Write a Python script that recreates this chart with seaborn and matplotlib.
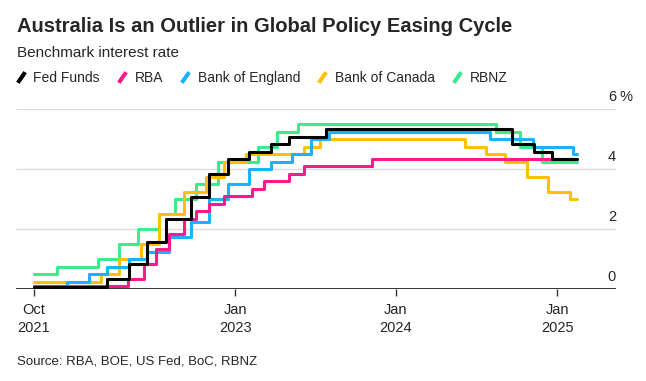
import matplotlib.pyplot as plt
import matplotlib.transforms as mtransforms
from matplotlib.lines import Line2D
import pandas as pd
import seaborn as sns

# policy rate change points (date the new rate took effect), last entry = end of data
fed_dates = ["2021-10-01", "2022-03-17", "2022-05-05", "2022-06-16", "2022-07-28",
             "2022-09-22", "2022-11-03", "2022-12-15", "2023-02-02", "2023-03-23",
             "2023-05-04", "2023-07-27", "2024-09-19", "2024-11-08", "2024-12-19",
             "2025-02-14"]
fed_rates = [0.08, 0.33, 0.83, 1.58, 2.33, 3.08, 3.83, 4.33, 4.58, 4.83, 5.08, 5.33,
             4.83, 4.58, 4.33, 4.33]

rba_dates = ["2021-10-01", "2022-05-04", "2022-06-08", "2022-07-06", "2022-08-03",
             "2022-09-07", "2022-10-05", "2022-11-02", "2022-12-07", "2023-02-08",
             "2023-03-08", "2023-05-03", "2023-06-07", "2023-11-08", "2025-02-14"]
rba_rates = [0.10, 0.35, 0.85, 1.35, 1.85, 2.35, 2.60, 2.85, 3.10, 3.35, 3.60, 3.85,
             4.10, 4.35, 4.35]

boe_dates = ["2021-10-01", "2021-12-16", "2022-02-03", "2022-03-17", "2022-05-05",
             "2022-06-16", "2022-08-04", "2022-09-22", "2022-11-03", "2022-12-15",
             "2023-02-02", "2023-03-23", "2023-05-11", "2023-06-22", "2023-08-03",
             "2024-08-01", "2024-11-07", "2025-02-06", "2025-02-14"]
boe_rates = [0.10, 0.25, 0.50, 0.75, 1.00, 1.25, 1.75, 2.25, 3.00, 3.50, 4.00, 4.25,
             4.50, 5.00, 5.25, 5.00, 4.75, 4.50, 4.50]

boc_dates = ["2021-10-01", "2022-03-02", "2022-04-13", "2022-06-01", "2022-07-13",
             "2022-09-07", "2022-10-26", "2022-12-07", "2023-01-25", "2023-06-07",
             "2023-07-12", "2024-06-05", "2024-07-24", "2024-09-04", "2024-10-23",
             "2024-12-11", "2025-01-29", "2025-02-14"]
boc_rates = [0.25, 0.50, 1.00, 1.50, 2.50, 3.25, 3.75, 4.25, 4.50, 4.75, 5.00, 4.75,
             4.50, 4.25, 3.75, 3.25, 3.00, 3.00]

rbnz_dates = ["2021-10-01", "2021-11-24", "2022-02-23", "2022-04-13", "2022-05-25",
              "2022-07-13", "2022-08-17", "2022-10-05", "2022-11-23", "2023-02-22",
              "2023-04-05", "2023-05-24", "2024-08-14", "2024-10-09", "2024-11-27",
              "2025-02-14"]
rbnz_rates = [0.50, 0.75, 1.00, 1.50, 2.00, 2.50, 3.00, 3.50, 4.25, 4.75, 5.25, 5.50,
              5.25, 4.75, 4.25, 4.25]

banks = ["Fed Funds", "RBA", "Bank of England", "Bank of Canada", "RBNZ"]
colors = ["#000000", "#ff1a8c", "#1ab2ff", "#ffc000", "#3deb8c"]

x_ticks = ["2021-10-01", "2023-01-01", "2024-01-01", "2025-01-01"]
x_labels = ["Oct\n2021", "Jan\n2023", "Jan\n2024", "Jan\n2025"]
y_ticks = [0, 2, 4, 6]

series = [(fed_dates, fed_rates), (rba_dates, rba_rates), (boe_dates, boe_rates),
          (boc_dates, boc_rates), (rbnz_dates, rbnz_rates)]
df = pd.concat([
    pd.DataFrame({"date": pd.to_datetime(d), "rate": r, "bank": b})
    for b, (d, r) in zip(banks, series)
])

sns.set_style("white")
plt.rcParams["font.family"] = ["Liberation Sans", "DejaVu Sans"]

fig = plt.figure(figsize=(6.46, 3.81), dpi=100)
ax = fig.add_axes([16 / 646, 92 / 381, 600 / 646, 180 / 381])

# black drawn last so it sits on top
sns.lineplot(
    data=df, x="date", y="rate", hue="bank",
    hue_order=banks[::-1], palette=dict(zip(banks, colors)),
    drawstyle="steps-post", linewidth=2.2, errorbar=None,
    legend=False, ax=ax
)

ax.set_xlim(pd.Timestamp("2021-08-22"), pd.Timestamp("2025-05-14"))
ax.set_ylim(0, 6)
for v in y_ticks[1:]:
    ax.axhline(v, color="#dddddd", linewidth=1, zorder=0)
ax.axhline(0, color="black", linewidth=1.1, zorder=1)

for s in ax.spines.values():
    s.set_visible(False)

ax.set_yticks([])
ax.set_xticks(pd.to_datetime(x_ticks))
ax.set_xticklabels(x_labels, fontsize=10.5, linespacing=1.35)
ax.tick_params(axis="x", length=5, width=1, color="#333333", pad=5, bottom=True)
ax.set_xlabel("")
ax.set_ylabel("")

lift = mtransforms.offset_copy(ax.get_yaxis_transform(), fig=fig, x=0, y=5, units="dots")
for v in y_ticks:
    ax.text(1.0, v, str(v), transform=lift, ha="right", va="bottom", fontsize=10.5)
ax.text(1.0, 6, " %", transform=lift, ha="left", va="bottom", fontsize=10.5)

fig.text(17 / 646, 1 - 26 / 381, "Australia Is an Outlier in Global Policy Easing Cycle",
         fontsize=14.5, fontweight="bold", va="center")
fig.text(17 / 646, 1 - 53 / 381, "Benchmark interest rate", fontsize=11, va="center")

handles = [Line2D([], [], color=c, marker=(2, 2, -35), markersize=9,
                  markeredgewidth=2.6, linestyle="none") for c in colors]
fig.legend(handles, banks, loc="center left", bbox_to_anchor=(14 / 646, 1 - 78 / 381),
           ncol=5, frameon=False, fontsize=10, handlelength=1.0, handletextpad=0.4,
           columnspacing=1.1, borderaxespad=0, borderpad=0)

fig.text(17 / 646, 1 - 362 / 381, "Source: RBA, BOE, US Fed, BoC, RBNZ",
         fontsize=9.5, va="center")

fig.savefig("out.png", dpi=100)
